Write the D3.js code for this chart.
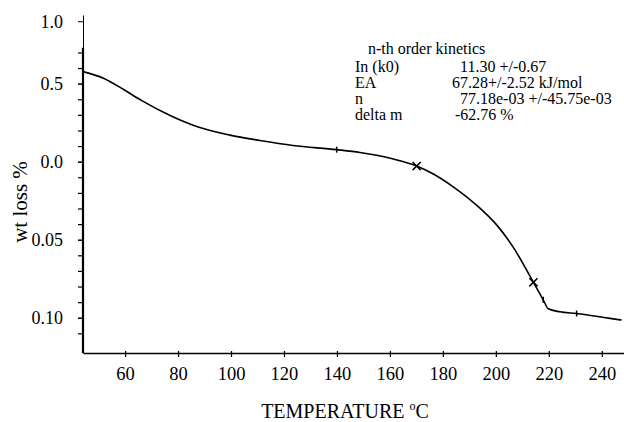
<!DOCTYPE html>
<html>
<head>
<meta charset="utf-8">
<script src="https://cdn.jsdelivr.net/npm/d3@7"></script>
<style>
  body { margin: 0; background: #fff; }
  svg { display: block; font-family: "Liberation Serif", "Times New Roman", serif; }
</style>
</head>
<body>
<div id="chart"></div>
<script>
// curve: temperature (°C) and wt loss
var temps = [44.1, 51.8, 59.3, 66.3, 77.6, 87.6, 99.6, 110.9, 123.4, 139.9, 148.7, 155.0,
  161.3, 170.1, 176.4, 183.9, 194.0, 200.3, 206.6, 214.2, 217.9, 219.8, 224.2, 230.5, 243.1, 247.5];
var wtLoss = [-0.0577, -0.0535, -0.0464, -0.0391, -0.0291, -0.0222, -0.0170, -0.0136, -0.0104, -0.0077, -0.0059, -0.0041,
  -0.0017, 0.0028, 0.0079, 0.0161, 0.0298, 0.0405, 0.0549, 0.0773, 0.0885, 0.0943, 0.0962, 0.0973, 0.1004, 0.1015];

// cross markers and small marks on the curve
var crossT = [170.1, 214.2];
var crossV = [0.0028, 0.0773];
var markT = [139.9, 217.9, 230.5];
var markV = [-0.0077, 0.0885, 0.0973];

// axis ticks
var xTicks = [60, 80, 100, 120, 140, 160, 180, 200, 220, 240];
var yTickValues = [-0.09, -0.05, 0, 0.05, 0.10];
var yTickLabels = ["1.0", "0.5", "0.0", "0.05", "0.10"];

// fitted parameters box
var paramNames = ["In (k0)", "EA", "n", "delta m"];
var paramValues = ["11.30 +/-0.67", "67.28+/-2.52 kJ/mol", "77.18e-03 +/-45.75e-03", "-62.76 %"];

var data = temps.map((t, i) => ({ t: t, v: wtLoss[i] }));

var width = 624, height = 422;
var margin = { top: 15, right: 0, bottom: 69, left: 83 };

var svg = d3.select("#chart")
  .append("svg")
    .attr("width", width)
    .attr("height", height);

var x = d3.scaleLinear()
  .domain([44.1, 248.4])
  .range([margin.left, width - margin.right]);

// wt loss grows downward
var y = d3.scaleLinear()
  .domain([-0.094, 0.1226])
  .range([margin.top, height - margin.bottom]);

// X axis
var xAxis = svg.append("g")
  .attr("transform", "translate(0," + (height - margin.bottom) + ")")
  .call(d3.axisBottom(x).tickValues(xTicks).tickSize(4).tickPadding(10).tickSizeOuter(0));
xAxis.select(".domain").attr("stroke-width", 1.6);
xAxis.selectAll(".tick line").attr("y1", -2).attr("stroke-width", 1.2);
xAxis.selectAll("text")
  .style("font-size", "18.5px")
  .style("font-family", "Liberation Serif")
  .attr("fill", "#000");

// Y axis: minor ticks every 0.01, labels on a few
var yAxis = svg.append("g")
  .attr("transform", "translate(" + margin.left + ",0)")
  .call(d3.axisLeft(y).tickValues(d3.range(-0.07, 0.115, 0.01)).tickSize(5).tickFormat("").tickSizeOuter(0));
yAxis.select(".domain").attr("stroke-width", 1);
yAxis.selectAll(".tick line").attr("stroke-width", 1.2);

var yLabels = svg.append("g")
  .attr("transform", "translate(" + margin.left + ",0)")
  .call(d3.axisLeft(y).tickValues(yTickValues).tickSize(5).tickPadding(15)
    .tickFormat((d, i) => yTickLabels[i]).tickSizeOuter(0));
yLabels.select(".domain").remove();
yLabels.selectAll("text")
  .style("font-size", "18px")
  .style("font-family", "Liberation Serif")
  .attr("fill", "#000");

// thicker lower part of the y axis line
svg.append("line")
  .attr("x1", margin.left).attr("x2", margin.left)
  .attr("y1", y(-0.073)).attr("y2", height - margin.bottom)
  .attr("stroke", "#000")
  .attr("stroke-width", 2.2);

// curve
var line = d3.line()
  .x(d => x(d.t))
  .y(d => y(d.v))
  .curve(d3.curveMonotoneX);

svg.append("path")
  .datum(data)
  .attr("fill", "none")
  .attr("stroke", "#000")
  .attr("stroke-width", 1.6)
  .attr("d", line);

// cross markers
svg.selectAll(".cross")
  .data(crossT.map((t, i) => ({ t: t, v: crossV[i] })))
  .enter()
  .append("path")
    .attr("class", "cross")
    .attr("transform", d => "translate(" + x(d.t) + "," + y(d.v) + ")")
    .attr("d", d3.symbol(d3.symbolX, 45))
    .attr("fill", "none")
    .attr("stroke", "#000")
    .attr("stroke-width", 1.5);

// small vertical marks
svg.selectAll(".mark")
  .data(markT.map((t, i) => ({ t: t, v: markV[i] })))
  .enter()
  .append("line")
    .attr("class", "mark")
    .attr("x1", d => x(d.t)).attr("x2", d => x(d.t))
    .attr("y1", d => y(d.v) - 3).attr("y2", d => y(d.v) + 3)
    .attr("stroke", "#000")
    .attr("stroke-width", 1.5);

// axis titles
var xTitle = svg.append("text")
  .attr("x", 345)
  .attr("y", 418)
  .attr("text-anchor", "middle")
  .style("font-size", "20px");
xTitle.append("tspan").text("TEMPERATURE ");
xTitle.append("tspan").attr("dy", -8).style("font-size", "12px").text("o");
xTitle.append("tspan").attr("dy", 8).text("C");

svg.append("text")
  .attr("transform", "translate(27,202) rotate(-90)")
  .attr("text-anchor", "middle")
  .style("font-size", "21px")
  .text("wt loss %");

// kinetics box
svg.append("text")
  .attr("x", 368)
  .attr("y", 54)
  .style("font-size", "16px")
  .text("n-th order kinetics");

paramNames.forEach(function (name, i) {
  svg.append("text")
    .attr("x", 355)
    .attr("y", 71.5 + i * 16)
    .style("font-size", "16px")
    .text(name);
});

var valueX = [460, 452, 460, 455];
paramValues.forEach(function (val, i) {
  svg.append("text")
    .attr("x", valueX[i])
    .attr("y", 71.5 + i * 16)
    .style("font-size", "16px")
    .text(val);
});
</script>
</body>
</html>
